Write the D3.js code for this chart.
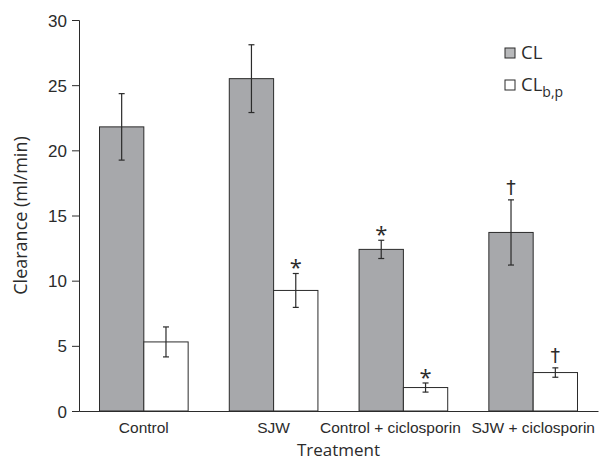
<!DOCTYPE html>
<html>
<head>
<meta charset="utf-8">
<script src="https://cdn.jsdelivr.net/npm/d3@7"></script>
<style>
  body { margin: 0; background: #fff; }
  svg { font-family: "Open Sans", "Noto Sans", sans-serif; }
</style>
</head>
<body>
<div id="chart"></div>
<script>
// Values (mean ± error)
const treatments = ["Control", "SJW", "Control + ciclosporin", "SJW + ciclosporin"];
const seriesNames = ["CL", "CLbp"];
const clValues = [21.8, 25.5, 12.4, 13.7];
const clErrors = [2.55, 2.6, 0.7, 2.5];
const clbpValues = [5.3, 9.25, 1.8, 2.95];
const clbpErrors = [1.15, 1.3, 0.35, 0.36];
// significance marks above bars ("" = none)
const clMarks = ["", "", "*", "†"];
const clbpMarks = ["", "*", "*", "†"];
const yTicks = [0, 5, 10, 15, 20, 25, 30];

const W = 606, H = 461;
const margin = { top: 20, right: 8, bottom: 50, left: 79 };
const width = W - margin.left - margin.right;
const height = H - margin.top - margin.bottom;

const svgEl = d3.select("#chart").append("svg")
  .attr("width", W)
  .attr("height", H);

const svg = svgEl.append("g")
  .attr("transform", `translate(${margin.left},${margin.top})`);

const colors = { CL: "#a7a8ab", CLbp: "#ffffff" };
const ink = "#2b2b2b";

// Build rows
const rows = [];
treatments.forEach((t, i) => {
  rows.push({ treatment: t, series: "CL", value: clValues[i], err: clErrors[i], mark: clMarks[i] });
  rows.push({ treatment: t, series: "CLbp", value: clbpValues[i], err: clbpErrors[i], mark: clbpMarks[i] });
});

const x0 = d3.scaleBand()
  .domain(treatments)
  .range([0, width])
  .paddingInner(0.317)
  .paddingOuter(0.158);

const x1 = d3.scaleBand()
  .domain(seriesNames)
  .range([0, x0.bandwidth()]);

const y = d3.scaleLinear()
  .domain([0, 30])
  .range([height, 0]);

// Y axis
const yAxis = svg.append("g")
  .call(d3.axisLeft(y).tickValues(yTicks).tickSize(7).tickPadding(5));
yAxis.select(".domain").attr("stroke", ink);
yAxis.selectAll(".tick line").attr("stroke", ink);
yAxis.selectAll("text")
  .attr("fill", ink)
  .style("font-size", "17px")
  .attr("dy", "0.36em");

// Bars
svg.selectAll(".bar")
  .data(rows)
  .enter()
  .append("rect")
  .attr("class", "bar")
  .attr("x", d => x0(d.treatment) + x1(d.series))
  .attr("width", x1.bandwidth())
  .attr("y", d => y(d.value))
  .attr("height", d => height - y(d.value))
  .attr("fill", d => colors[d.series])
  .attr("stroke", ink)
  .attr("stroke-width", 1);

// Error bars
const cap = 3;
const eb = svg.selectAll(".err")
  .data(rows)
  .enter()
  .append("g")
  .attr("class", "err")
  .attr("stroke", ink)
  .attr("stroke-width", 1.2);

const cx = d => x0(d.treatment) + x1(d.series) + x1.bandwidth() / 2;

eb.append("line")
  .attr("x1", cx).attr("x2", cx)
  .attr("y1", d => y(d.value + d.err))
  .attr("y2", d => y(d.value - d.err));
eb.append("line")
  .attr("x1", d => cx(d) - cap).attr("x2", d => cx(d) + cap)
  .attr("y1", d => y(d.value + d.err)).attr("y2", d => y(d.value + d.err));
eb.append("line")
  .attr("x1", d => cx(d) - cap).attr("x2", d => cx(d) + cap)
  .attr("y1", d => y(d.value - d.err)).attr("y2", d => y(d.value - d.err));

// Significance marks
svg.selectAll(".mark")
  .data(rows.filter(d => d.mark))
  .enter()
  .append("text")
  .attr("class", "mark")
  .attr("x", cx)
  .attr("y", d => y(d.value + d.err) - (d.mark === "*" ? -2 : 6))
  .attr("text-anchor", "middle")
  .attr("fill", ink)
  .style("font-family", d => d.mark === "*" ? null : "'DejaVu Sans', sans-serif")
  .style("font-size", d => d.mark === "*" ? "22px" : "19px")
  .text(d => d.mark);

// X axis (line only, no ticks)
const xAxis = svg.append("g")
  .attr("transform", `translate(0,${height})`)
  .call(d3.axisBottom(x0).tickSize(0).tickPadding(11));
xAxis.select(".domain").attr("stroke", ink);
xAxis.selectAll("text")
  .attr("fill", ink)
  .style("font-size", "15.5px")
  .attr("dy", "0.71em");
// nudge third label left so it doesn't run into the fourth
xAxis.selectAll(".tick text")
  .filter(d => d === "Control + ciclosporin")
  .attr("dx", -13);

// Axis titles
svg.append("text")
  .attr("x", width / 2)
  .attr("y", height + 45)
  .attr("text-anchor", "middle")
  .attr("fill", ink)
  .style("font-size", "17px")
  .text("Treatment");

svg.append("text")
  .attr("transform", "rotate(-90)")
  .attr("x", -height / 2)
  .attr("y", -52)
  .attr("text-anchor", "middle")
  .attr("fill", ink)
  .style("font-size", "18px")
  .text("Clearance (ml/min)");

// Legend
const legend = svgEl.append("g")
  .attr("transform", "translate(505,48)");

seriesNames.forEach((s, i) => {
  const g = legend.append("g").attr("transform", `translate(0,${i * 32})`);
  g.append("rect")
    .attr("width", 10).attr("height", 10)
    .attr("fill", s === "CL" ? "#b8b9bb" : "#fff")
    .attr("stroke", ink);
  const t = g.append("text")
    .attr("x", 16)
    .attr("y", 11)
    .attr("fill", ink)
    .style("font-size", "18.5px")
    .text("CL");
  if (s === "CLbp") {
    t.append("tspan")
      .attr("dy", 6)
      .style("font-size", "14px")
      .text("b,p");
  }
});
</script>
</body>
</html>
